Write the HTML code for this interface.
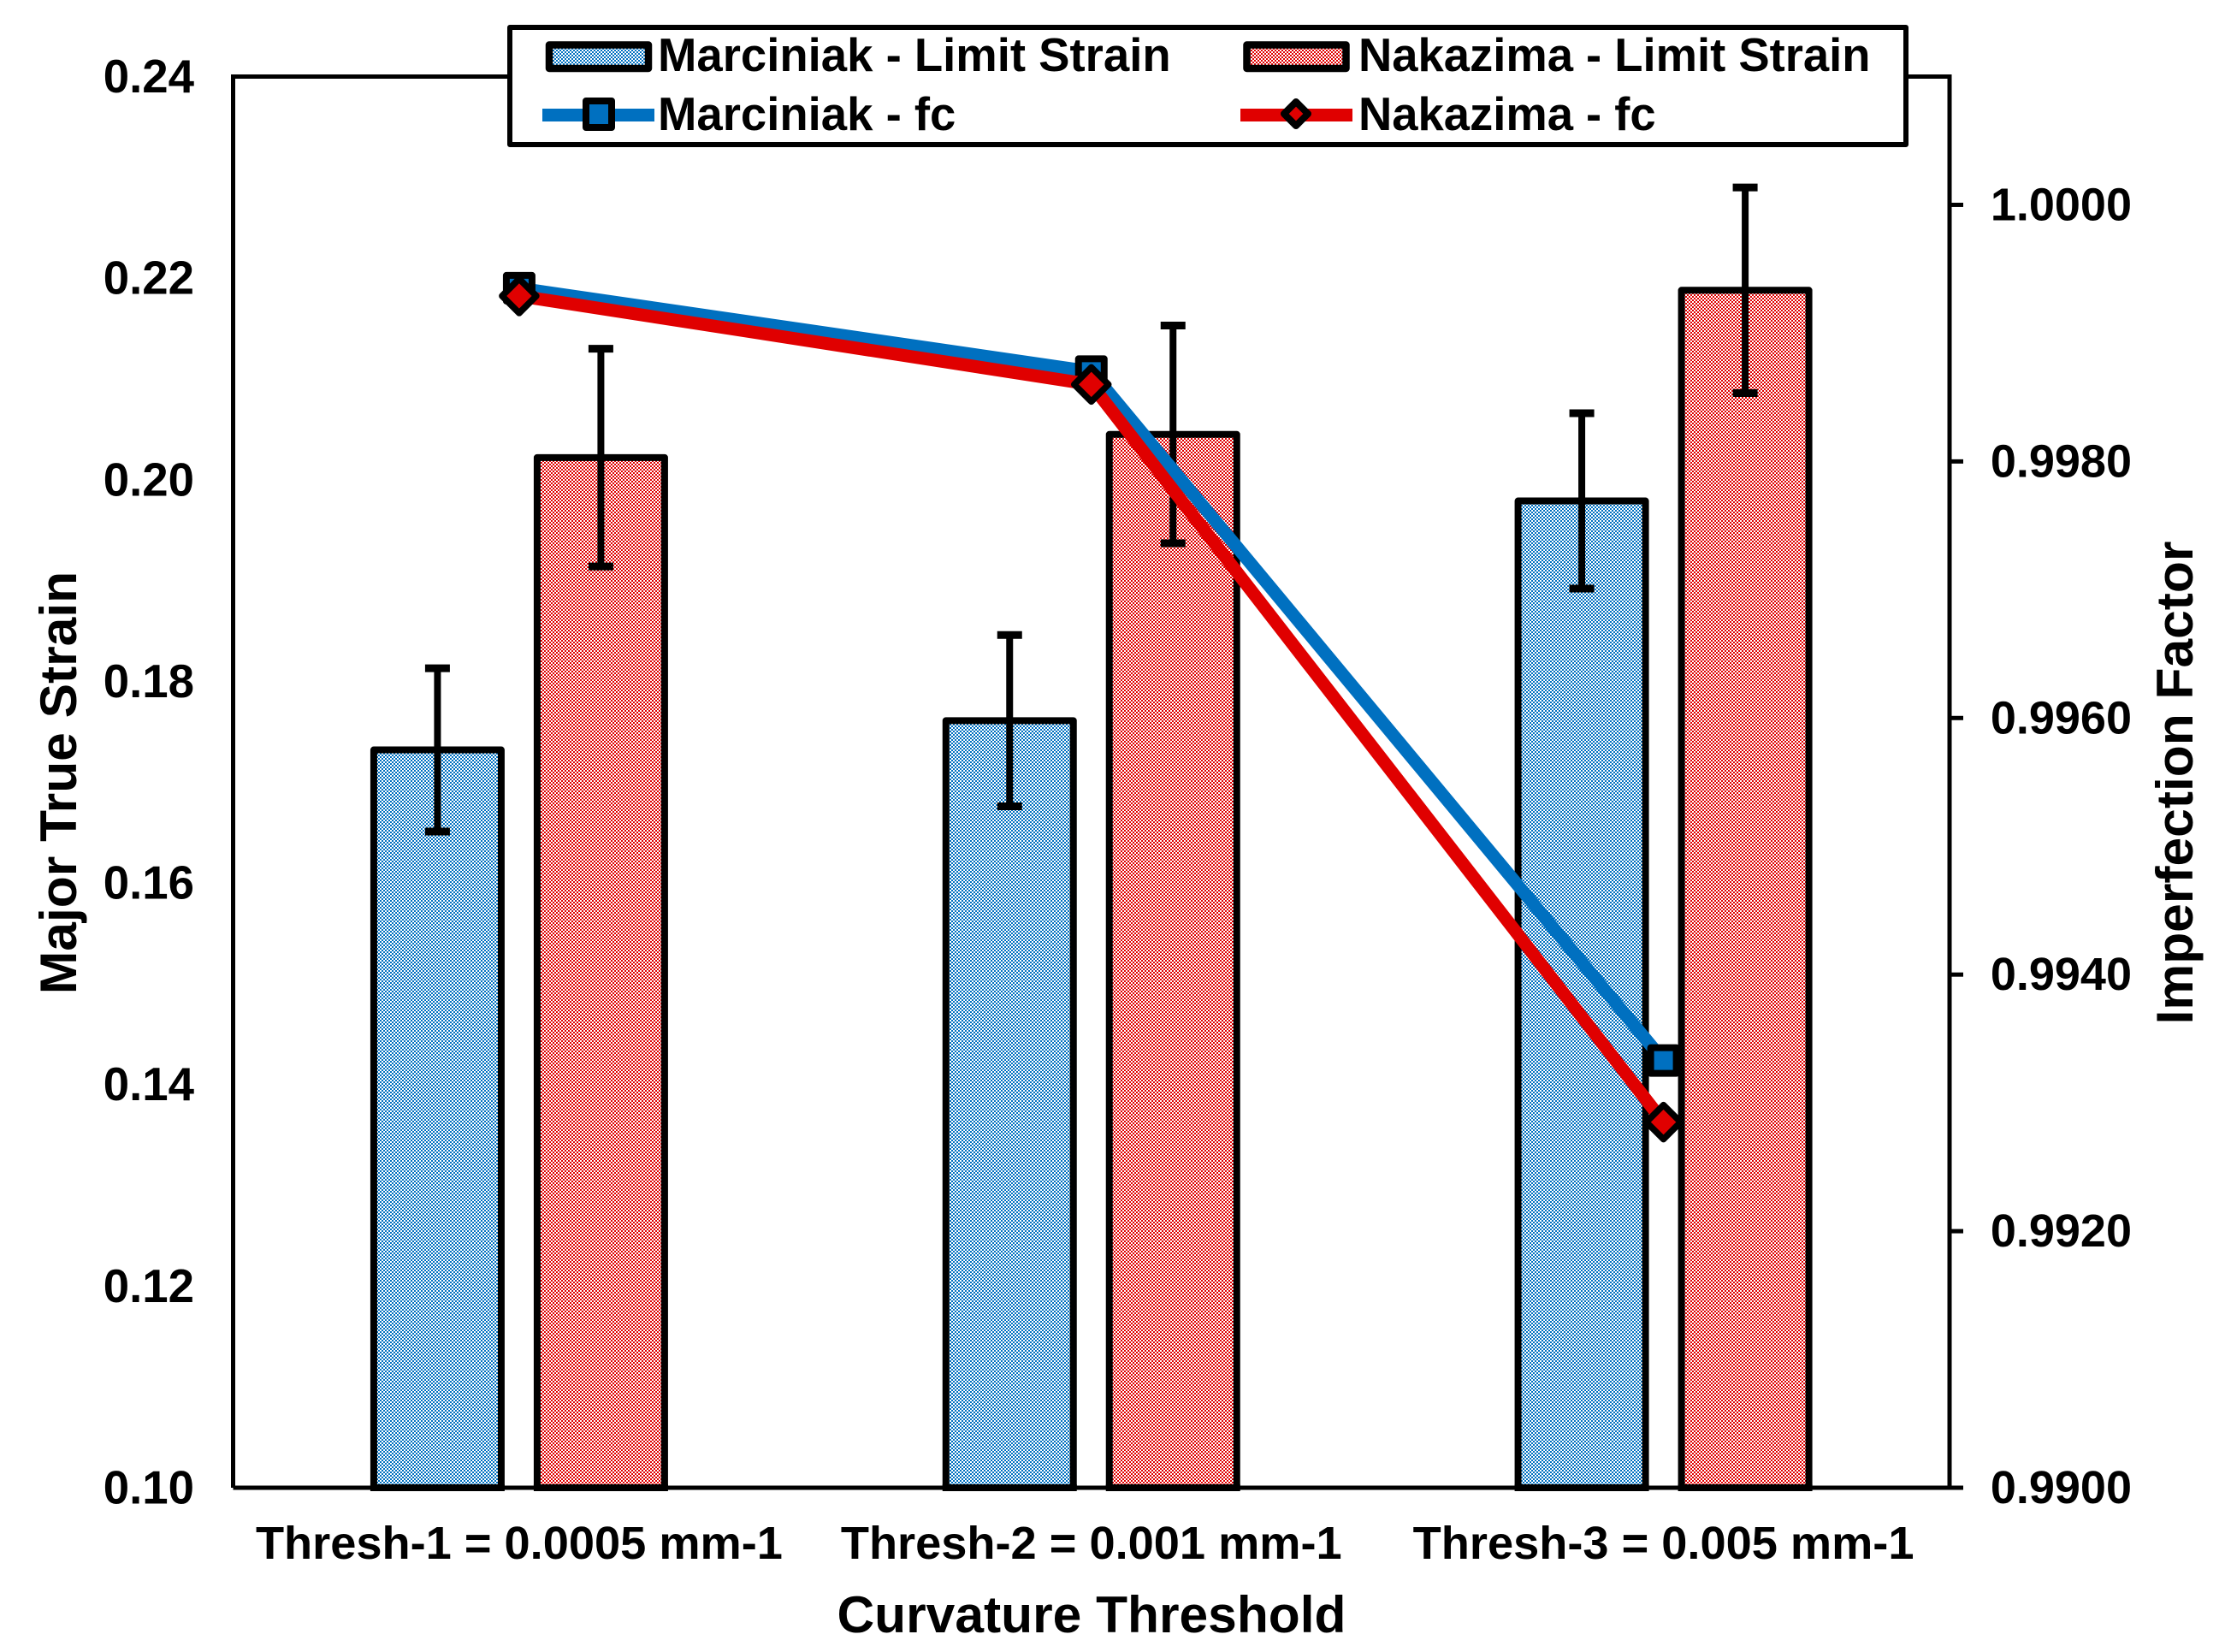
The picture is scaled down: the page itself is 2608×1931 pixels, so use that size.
<!DOCTYPE html>
<html lang="en">
<head>
<meta charset="utf-8">
<title>Major True Strain and Imperfection Factor vs Curvature Threshold</title>
<style>
  html, body { margin: 0; padding: 0; background: #fff; }
  svg { display: block; font-family: "Liberation Sans", Arial, sans-serif; font-weight: 700; fill: #000; }
</style>
</head>
<body>
<svg id="chart" xmlns="http://www.w3.org/2000/svg" width="2608" height="1931" viewBox="0 0 2608 1931">
  <defs>
    <pattern id="fill-blue" patternUnits="userSpaceOnUse" width="4" height="4" shape-rendering="crispEdges">
      <rect width="4" height="4" fill="#fff"/>
      <rect x="0" y="0" width="2" height="2" fill="#0070C0"/>
      <rect x="2" y="2" width="2" height="2" fill="#0070C0"/>
    </pattern>
    <pattern id="fill-red" patternUnits="userSpaceOnUse" width="4" height="4" shape-rendering="crispEdges">
      <rect width="4" height="4" fill="#fff"/>
      <rect x="0" y="0" width="2" height="2" fill="#E00000"/>
      <rect x="2" y="2" width="2" height="2" fill="#E00000"/>
    </pattern>
  </defs>
  <rect width="2608" height="1931" fill="#fff"/>
  <g id="bars"></g>
  <g id="lines"></g>
  <path id="plot-frame" d="M272.5 1739V89.5H2279V1739H272.5" fill="none" stroke="#000" stroke-width="5"/>
  <g id="bars-top"></g>
  <g id="ticks"></g>
  <text x="1276" y="1908" font-size="60.5" text-anchor="middle">Curvature Threshold</text>
  <text transform="translate(89 915) rotate(-90)" font-size="60.5" text-anchor="middle">Major True Strain</text>
  <text transform="translate(2563 915) rotate(-90)" font-size="60.5" text-anchor="middle">Imperfection Factor</text>
  <g>
    <rect x="596" y="32" width="1632" height="137" fill="#fff" stroke="#000" stroke-width="6" stroke-linejoin="round"/>
    <rect x="642" y="52.5" width="116" height="27.5" fill="url(#fill-blue)" stroke="#000" stroke-width="8.5" stroke-linejoin="round"/>
    <text x="769" y="83" font-size="54.5">Marciniak - Limit Strain</text>
    <rect x="1457.5" y="52.5" width="116" height="27.5" fill="url(#fill-red)" stroke="#000" stroke-width="8.5" stroke-linejoin="round"/>
    <text x="1588" y="83" font-size="54.4">Nakazima - Limit Strain</text>
    <rect x="634" y="127" width="131" height="15" fill="#0070C0"/>
    <rect x="685" y="118" width="30" height="31" fill="#0070C0" stroke="#000" stroke-width="8" stroke-linejoin="round"/>
    <text x="769" y="152" font-size="54.5">Marciniak - fc</text>
    <rect x="1450" y="127" width="131" height="15" fill="#E00000"/>
    <path d="M1515 119L1529 133L1515 147L1501 133Z" fill="#E00000" stroke="#000" stroke-width="8" stroke-linejoin="round"/>
    <text x="1588" y="152" font-size="54.4">Nakazima - fc</text>
  </g>
</svg>
<script>
var categories = ["Thresh-1 = 0.0005 mm-1", "Thresh-2 = 0.001 mm-1", "Thresh-3 = 0.005 mm-1"];
var marciniakStrain = [0.1732, 0.1761, 0.1979];
var marciniakError = [0.0081, 0.0085, 0.0087];
var nakazimaStrain = [0.2022, 0.2045, 0.2188];
var nakazimaError = [0.0108, 0.0108, 0.0102];
var marciniakFc = [0.99935, 0.99870, 0.99333];
var nakazimaFc = [0.99929, 0.99860, 0.99285];
var leftTicks = ["0.10", "0.12", "0.14", "0.16", "0.18", "0.20", "0.22", "0.24"];
var rightTicks = ["0.9900", "0.9920", "0.9940", "0.9960", "0.9980", "1.0000"];

var NS = "http://www.w3.org/2000/svg";
var plotLeft = 272.5, plotRight = 2279, plotTop = 89.5, plotBottom = 1739;
function xCenter(i) { return plotLeft + (plotRight - plotLeft) * (i + 0.5) / categories.length; }
function yLeft(v) { return plotBottom - (v - 0.10) / (0.24 - 0.10) * (plotBottom - plotTop); }
function yRight(v) { return plotBottom - (v - 0.99) / (1.001 - 0.99) * (plotBottom - plotTop); }
function make(tag, props, parent) {
  var el = document.createElementNS(NS, tag);
  for (var k in props) { el.setAttribute(k, props[k]); }
  parent.appendChild(el);
  return el;
}
var barsG = document.getElementById("bars");
var linesG = document.getElementById("lines");
var topG = document.getElementById("bars-top");
var ticksG = document.getElementById("ticks");
var barOffset = 95.5, barWidth = 149;

function drawBar(i, value, err, offset, fill, key) {
  var cx = xCenter(i) + offset;
  var y = yLeft(value);
  var bar = make("rect", {x: cx - barWidth / 2, y: y, width: barWidth, height: plotBottom - y, fill: fill, stroke: "#000", "stroke-width": 8, "stroke-linejoin": "round"}, barsG);
  
  
  var y1 = yLeft(value + err), y2 = yLeft(value - err);
  var stem = make("line", {x1: cx, x2: cx, y1: y1, y2: y2, stroke: "#000", "stroke-width": 8}, barsG);
  
  
  var capTop = make("line", {x1: cx - 14.5, x2: cx + 14.5, y1: y1, y2: y1, stroke: "#000", "stroke-width": 9}, barsG);
  
  
  var capBottom = make("line", {x1: cx - 14.5, x2: cx + 14.5, y1: y2, y2: y2, stroke: "#000", "stroke-width": 9}, barsG);
  
  
  var base = make("line", {x1: cx - barWidth / 2 - 4, x2: cx + barWidth / 2 + 4, y1: plotBottom, y2: plotBottom, stroke: "#000", "stroke-width": 8}, topG);
  
  
}
categories.forEach(function (c, i) {
  drawBar(i, marciniakStrain[i], marciniakError[i], -barOffset, "url(#fill-blue)", "marciniak");
  drawBar(i, nakazimaStrain[i], nakazimaError[i], barOffset, "url(#fill-red)", "nakazima");
  var lab = make("text", {x: xCenter(i), y: 1822, "font-size": 54.2, "text-anchor": "middle"}, ticksG);
  lab.textContent = c;
  
  
});

function pts(arr) {
  return arr.map(function (v, i) { return xCenter(i) + "," + yRight(v); }).join(" ");
}
var marcLine = make("polyline", {points: pts(marciniakFc), fill: "none", stroke: "#0070C0", "stroke-width": 15, "stroke-linejoin": "miter"}, linesG);


marciniakFc.forEach(function (v, i) {
  var cx = xCenter(i), cy = yRight(v);
  var m = make("rect", {x: cx - 15, y: cy - 15, width: 30, height: 30, fill: "#0070C0", stroke: "#000", "stroke-width": 8, "stroke-linejoin": "round"}, linesG);
  
  
});
var nakLine = make("polyline", {points: pts(nakazimaFc), fill: "none", stroke: "#E00000", "stroke-width": 15, "stroke-linejoin": "miter"}, linesG);


nakazimaFc.forEach(function (v, i) {
  var cx = xCenter(i), cy = yRight(v), r = 20;
  var d = "M" + cx + " " + (cy - r) + "L" + (cx + r) + " " + cy + "L" + cx + " " + (cy + r) + "L" + (cx - r) + " " + cy + "Z";
  var m = make("path", {d: d, fill: "#E00000", stroke: "#000", "stroke-width": 7.5, "stroke-linejoin": "round"}, linesG);
  
  
});

leftTicks.forEach(function (t) {
  var lab = make("text", {x: 227, y: yLeft(parseFloat(t)) + 18.5, "font-size": 54.6, "text-anchor": "end"}, ticksG);
  lab.textContent = t;
  
  
});
rightTicks.forEach(function (t) {
  var y = yRight(parseFloat(t));
  var tick = make("line", {x1: plotRight, x2: 2295, y1: y, y2: y, stroke: "#000", "stroke-width": 5}, ticksG);
  
  
  var lab = make("text", {x: 2492, y: y + 18, "font-size": 54, "text-anchor": "end"}, ticksG);
  lab.textContent = t;
  
  
});
</script>
</body>
</html>
